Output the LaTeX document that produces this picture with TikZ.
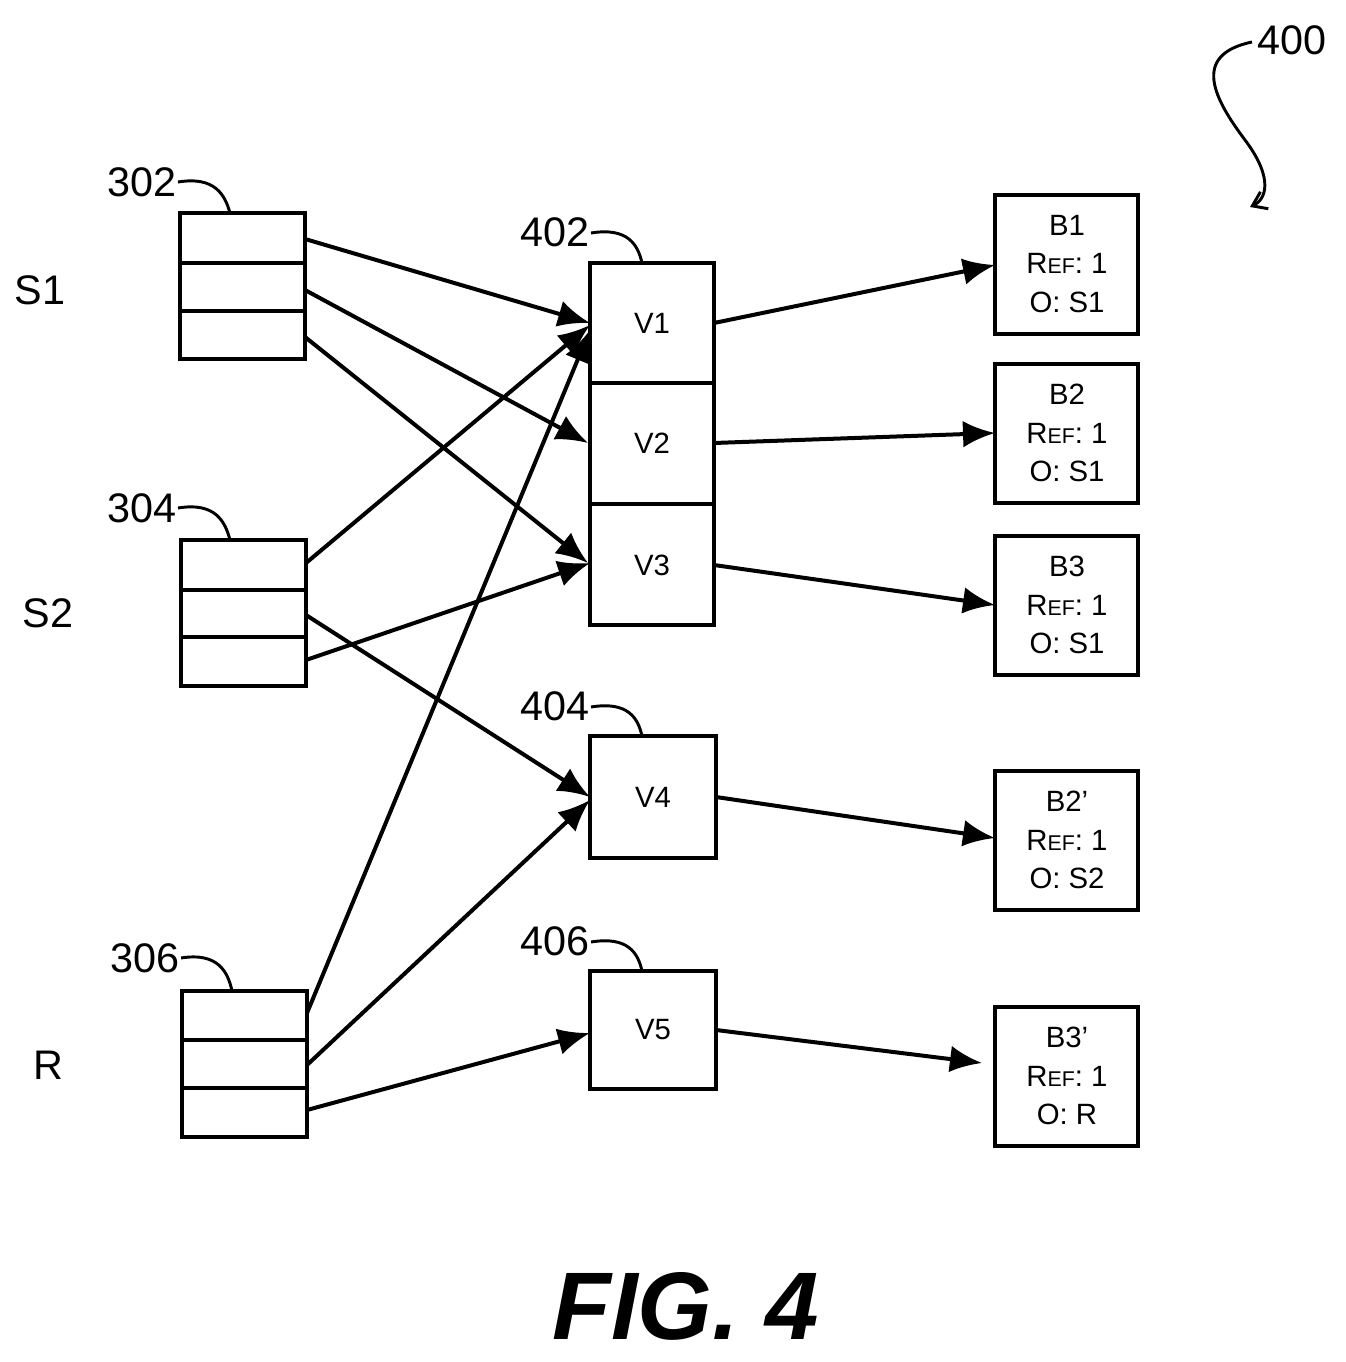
\documentclass[tikz,border=0pt]{standalone}
\usepackage{fontspec}
\setmainfont{Liberation Sans}
\usetikzlibrary{arrows.meta}
\begin{document}
\begin{tikzpicture}[x=0.75pt,y=-0.75pt,
  box/.style={draw,line width=3pt},
  arr/.style={line width=3pt,-{Latex[length=24pt,width=20pt]}},
  lead/.style={line width=2.2pt},
  big/.style={font=\fontsize{31}{34}\selectfont,inner sep=0pt},
  mid/.style={font=\fontsize{22}{29}\selectfont,inner sep=0pt,align=center}]
\useasboundingbox (0,0) rectangle (1345,1362);
% sources
\node[big] (s1) at (40,290) {S1};
\node[big] (s2) at (48,613) {S2};
\node[big] (r) at (48,1065) {R};
\foreach \n/\x/\y/\a/\b in {a/180/213/263/311, b/181/540/590/637, c/182/991/1040/1088}{
  \draw[box] (\x,\y) rectangle (\x+125,\y+146);
  \draw[box] (\x,\a) -- (\x+125,\a);
  \draw[box] (\x,\b) -- (\x+125,\b);
}
\coordinate (a1) at (305,239); \coordinate (a2) at (305,290); \coordinate (a3) at (305,337);
\coordinate (b1) at (306,563); \coordinate (b2) at (306,615); \coordinate (b3) at (306,660);
\coordinate (c1) at (307,1013); \coordinate (c2) at (307,1065); \coordinate (c3) at (307,1110);
\node[big] (l302) at (142,182) {302};
\node[big] (l304) at (142,508) {304};
\node[big] (l306) at (145,958) {306};
\draw[lead] (178,182) .. controls (215,176) and (225,195) .. (230,213);
\draw[lead] (178,508) .. controls (215,502) and (225,521) .. (230,540);
\draw[lead] (181,958) .. controls (218,952) and (228,972) .. (232,991);
% middle
\draw[box] (590,263) rectangle (714,625);
\draw[box] (590,383) -- (714,383);
\draw[box] (590,504) -- (714,504);
\node[mid] (v1) at (652,323) {V1};
\node[mid] (v2) at (652,443) {V2};
\node[mid] (v3) at (652,565) {V3};
\draw[box] (590,736) rectangle (716,858);
\node[mid] (v4) at (653,797) {V4};
\draw[box] (590,971) rectangle (716,1089);
\node[mid] (v5) at (653,1030) {V5};
\node[big] (l402) at (555,232) {402};
\node[big] (l404) at (555,706) {404};
\node[big] (l406) at (555,941) {406};
\draw[lead] (591,233) .. controls (628,227) and (638,245) .. (642,263);
\draw[lead] (591,707) .. controls (628,701) and (638,718) .. (642,736);
\draw[lead] (591,942) .. controls (628,936) and (638,953) .. (642,971);
% right boxes
\foreach \n/\y/\t/\o in {B1/195/B1/S1, B2/364/B2/S1, B3/536/B3/S1, B2p/771/B2\char"27/S2, B3p/1007/B3\char"27/R}{
  \draw[box] (995,\y) rectangle (1138,\y+139);
  \node[mid] (\n) at (1067,\y+69) {\t\\R{\fontsize{16}{20}\selectfont EF}: 1\\O: \o};
}
% arrows
\draw[arr] (a1) -- (590,323);
\draw[arr] (a2) -- (588,443);
\draw[arr] (a3) -- (588,563);
\draw[arr] (b1) -- (590,325);
\draw[arr] (b3) -- (590,563);
\draw[arr] (b2) -- (590,797);
\draw[arr] (c1) -- (590,330);
\draw[arr] (c2) -- (590,800);
\draw[arr] (c3) -- (590,1033);
\draw[arr] (714,323) -- (995,265);
\draw[arr] (714,443) -- (995,433);
\draw[arr] (714,565) -- (995,605);
\draw[arr] (716,797) -- (995,838);
\draw[arr] (716,1030) -- (982,1063);
% 400
\node[big] (l400) at (1292,40) {400};
\draw[lead,-{Straight Barb[length=10pt,width=14pt]}] (1252,42) .. controls (1190,55) and (1215,100) .. (1245,140) .. controls (1275,180) and (1265,200) .. (1250,207);
\node[font=\fontsize{72}{80}\selectfont\bfseries\itshape,inner sep=0pt] (fig) at (686,1306) {FIG. 4};
\end{tikzpicture}
\end{document}
